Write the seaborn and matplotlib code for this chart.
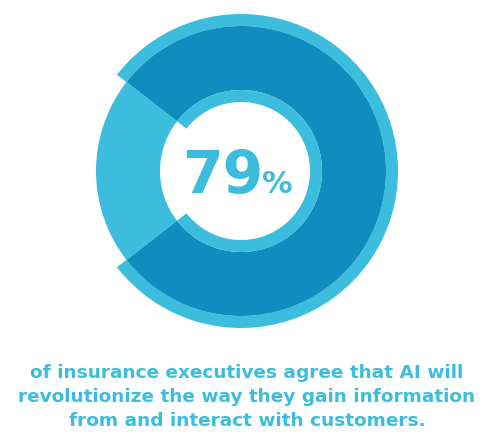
import matplotlib
matplotlib.use("Agg")
import matplotlib.pyplot as plt
import seaborn as sns

# data
segments = ["agree", "other"]
shares = [79, 21]
headline = "79"
headline_unit = "%"
caption_lines = [
    "of insurance executives agree that AI will",
    "revolutionize the way they gain information",
    "from and interact with customers.",
]

LIGHT = "#3DBDDD"
DARK = "#108DBE"

sns.set_theme(style="white")
plt.rcParams["font.family"] = ["DejaVu Sans"]

W, H = 494, 444
fig = plt.figure(figsize=(W / 100, H / 100), dpi=100)
ax = fig.add_axes([0, 0, 1, 1])

cx, cy = 241, H - 171
# start so the small wedge is centred on the left (180 deg)
start = 180 + 360 - shares[0] * 3.6 - shares[1] * 3.6 / 2

# outer light rim on the big wedge
ax.pie(shares, radius=157, center=(cx, cy), startangle=start, counterclock=True,
       colors=[LIGHT, "none"], wedgeprops=dict(width=12, linewidth=0), frame=True)
# main band
ax.pie(shares, radius=145, center=(cx, cy), startangle=start, counterclock=True,
       colors=[DARK, LIGHT], wedgeprops=dict(width=64, linewidth=0), frame=True)
# inner light rim on the big wedge
ax.pie(shares, radius=81, center=(cx, cy), startangle=start, counterclock=True,
       colors=[LIGHT, "none"], wedgeprops=dict(width=12, linewidth=0), frame=True)

ax.set_xlim(0, W)
ax.set_ylim(0, H)
ax.set_aspect("equal")
ax.axis("off")

ax.text(263, H - 193, headline, ha="right", va="baseline", fontsize=42,
        fontweight="bold", color=LIGHT)
ax.text(262, H - 193, headline_unit, ha="left", va="baseline", fontsize=22,
        fontweight="bold", color=LIGHT)

for i, line in enumerate(caption_lines):
    ax.text(247, H - 378 - i * 24, line, ha="center", va="baseline",
            fontsize=13.3, fontweight="bold", color=LIGHT)

fig.savefig("out.png", dpi=100)
